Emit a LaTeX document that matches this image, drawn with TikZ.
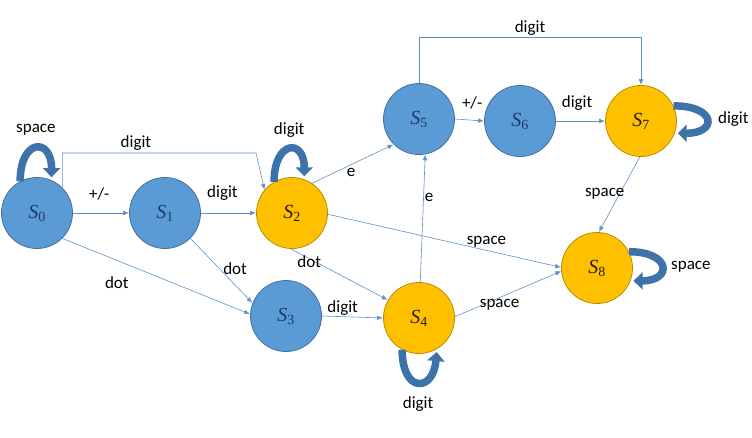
\documentclass[tikz,border=0pt]{standalone}
\usepackage{fontspec}
\setmainfont{Carlito}
\newfontfamily\statefont{Liberation Serif}
\usepackage{xcolor}
\definecolor{sblue}{RGB}{91,155,213}
\definecolor{sblueline}{RGB}{65,113,156}
\definecolor{sorange}{RGB}{255,192,0}
\definecolor{sorangeline}{RGB}{188,140,0}
\definecolor{navy}{RGB}{32,56,100}
\definecolor{edgeblue}{RGB}{95,145,200}
\definecolor{loopblue}{RGB}{62,115,170}
\usetikzlibrary{positioning, calc, arrows.meta, decorations.markings}
\newcommand{\sname}[1]{\textit{S}\textsubscript{#1}}
\tikzstyle{State} = [
circle,
minimum size=71pt,
inner sep=0pt,
fill=sblue,
draw=sblueline,
line width=0.8pt,
text=navy,
font=\statefont\fontsize{20}{20}\selectfont]
\tikzstyle{Accept} = [
State,
fill=sorange,
draw=sorangeline,
text=black!85!sorange]
\tikzstyle{Arrow} = [
semithick,
edgeblue,
decoration={
markings,
mark=at position 0.9999 with {
\arrow[edgeblue]{Latex[length=6pt,width=5pt]}}},
shorten >= 3pt, preaction = {decorate}]
\tikzstyle{LoopArrow} = [
line width=7.5pt,
loopblue,
-{Triangle[width=17pt,length=9pt]},
shorten >= 3pt]
\tikzstyle{Label} = [
inner sep=1pt,
text=black,
font=\fontsize{17}{17}\selectfont]

\begin{document}
\begin{tikzpicture}[x=1pt, y=1pt]
    \useasboundingbox (0,0) rectangle (752,-437);

    \node [State]  (s0) at (37,-213)  {\sname{0}};
    \node [State]  (s1) at (165,-213) {\sname{1}};
    \node [Accept] (s2) at (292,-213) {\sname{2}};
    \node [State]  (s3) at (286,-316) {\sname{3}};
    \node [Accept] (s4) at (419,-318) {\sname{4}};
    \node [State]  (s5) at (419,-119) {\sname{5}};
    \node [State]  (s6) at (520,-121) {\sname{6}};
    \node [Accept] (s7) at (641,-121) {\sname{7}};
    \node [Accept] (s8) at (597,-268) {\sname{8}};
    \coordinate (c02) at (256,-153);

    \draw[Arrow] (s0.east) -- node[Label, above=11pt, pos=.47] {+/-} (s1.west);
    \draw[Arrow] (s1.east) -- node[Label, above=11pt, pos=.39] {digit} (s2.west);
    \draw[Arrow] (s0.45) |- node[Label, above=1pt, pos=.69] {digit} (c02) -- (s2.140);
    \draw[Arrow] (s0.-45) -- node[Label, below=15pt, pos=.29] {dot} (s3.177);
    \draw[Arrow] (s1.-45) -- node[Label, right=3pt, pos=.46] {dot} (s3.159);
    \draw[Arrow] (s2.-92) -- node[Label, below=-4pt, pos=.19] {dot} (s4.150);
    \draw[Arrow] (s3.east) -- node[Label, above=0pt, pos=.34] {digit} (s4.west);
    \draw[Arrow] (s2.56) -- node[Label, below=2pt, pos=.48] {e} (s5.-135);
    \draw[Arrow] (s4.88) -- node[Label, right=0pt, pos=.66] {e} (s5.-80);
    \draw[Arrow] (s2.-2) -- node[Label, above=2pt, pos=.68] {space} (s8.179);
    \draw[Arrow] (s4.2) -- node[Label, below=0pt, pos=.42] {space} (s8.185);
    \draw[Arrow] (s5.east) -- node[Label, above=10pt, pos=.59] {+/-} (s6.west);
    \draw[Arrow] (s6.east) -- node[Label, above=9pt, pos=.43] {digit} (s7.west);
    \draw[Arrow] (s5.north) -- ++(0,46) -| node[Label, above=0pt, pos=.25] {digit} (s7.north);
    \draw[Arrow] (s7.-92) -- node[Label, left=-6pt, pos=.49] {space} (s8.87);

    % self loops
    \draw[LoopArrow] (s0.118) to [out=90, in=90, looseness=3.5] node[Label, above=8pt] {space} (s0.66);
    \draw[LoopArrow] (s2.120) to [out=90, in=90, looseness=3.5] node[Label, above=7pt] {digit} (s2.70);
    \draw[LoopArrow] (s4.-118) to [out=-90, in=-95, looseness=3.2] node[Label, below=10pt] {digit} (s4.-60);
    \draw[LoopArrow] (s7.25) to [out=0, in=0, looseness=4] node[Label, right=7pt] {digit} (s7.-20);
    \draw[LoopArrow] (s8.27) to [out=0, in=0, looseness=3.7] node[Label, right=5pt] {space} (s8.-21);
\end{tikzpicture}
\end{document}
